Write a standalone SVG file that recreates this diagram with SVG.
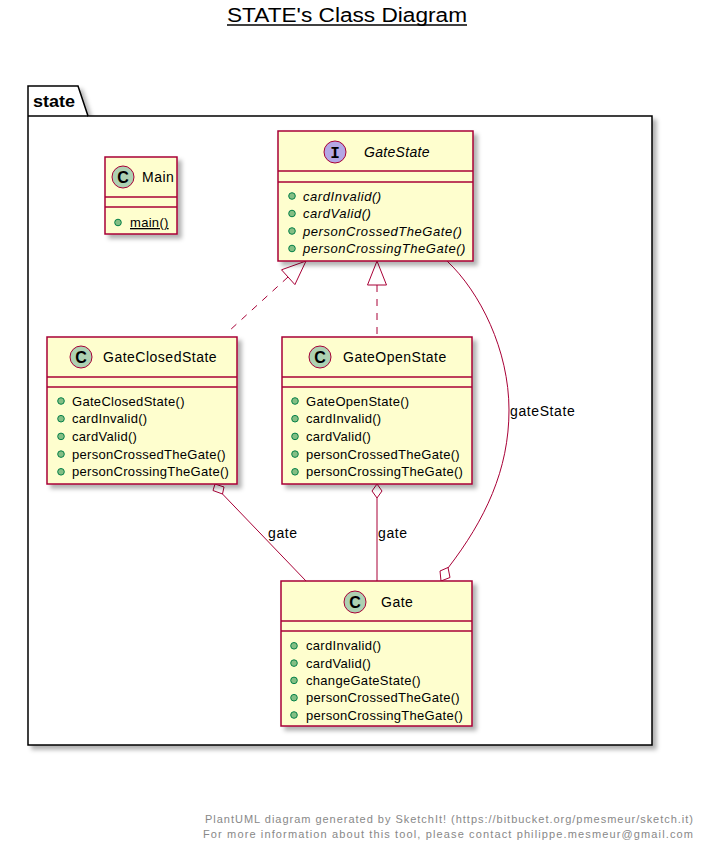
<svg xmlns="http://www.w3.org/2000/svg" width="707" height="854" viewBox="0 0 707 854">
  <defs>
    <filter id="shadow" x="-10%" y="-10%" width="130%" height="130%">
      <feDropShadow dx="4" dy="4" stdDeviation="2" flood-color="#000000" flood-opacity="0.3"/>
    </filter>
    <style>
      text { font-family: "Liberation Sans", Arial, sans-serif; fill: #000000; }
      .box { fill: #FEFECE; stroke: #A80036; stroke-width: 1.5; filter: url(#shadow); }
      .sep { stroke: #A80036; stroke-width: 1.5; }
      .spot-c { fill: #ADD1B2; stroke: #A80036; stroke-width: 1; }
      .spot-i { fill: #B4A7E5; stroke: #A80036; stroke-width: 1; }
      .spot-letter { font-size: 16px; font-weight: bold; text-anchor: middle; }
      .name { font-size: 14px; letter-spacing: 0.5px; }
      .iname { font-size: 14px; font-style: italic; letter-spacing: 0.3px; }
      .member { font-size: 13px; letter-spacing: 0.3px; }
      .imember { font-size: 13px; font-style: italic; letter-spacing: 0.55px; }
      .pub { fill: #84BE84; stroke: #038048; stroke-width: 1; }
      .link { fill: none; stroke: #A80036; stroke-width: 1; }
      .dashed { stroke-dasharray: 7,7; }
      .head-open { fill: #FFFFFF; stroke: #A80036; stroke-width: 1; }
      .label { font-size: 14px; letter-spacing: 0.6px; }
      .footer { font-size: 11px; fill: #888888; text-anchor: end; }
    </style>
  </defs>

  <rect x="0" y="0" width="707" height="854" fill="#FFFFFF"/>

  <!-- title -->
  <g id="title">
    <text x="227" y="22" font-size="20" textLength="240" lengthAdjust="spacingAndGlyphs">STATE's Class Diagram</text>
    <line x1="227" y1="25" x2="467" y2="25" stroke="#000000" stroke-width="1.5"/>
  </g>

  <!-- package state -->
  <g id="package-state">
    <path d="M28,86 L78,86 L88,116 L652,116 L652,745 L28,745 Z" fill="#FFFFFF" stroke="#000000" stroke-width="1.5" filter="url(#shadow)"/>
    <line x1="28" y1="116" x2="88" y2="116" stroke="#000000" stroke-width="1.5"/>
    <text x="33" y="107" font-size="16" font-weight="bold" textLength="42" lengthAdjust="spacingAndGlyphs">state</text>
  </g>

  <!-- connectors -->
  <g id="connectors">
    <!-- GateClosedState realizes GateState -->
    <line class="link dashed" x1="288" y1="277" x2="229" y2="331"/>
    <polygon class="head-open" points="306,261 294.9,284.6 281.5,269.8"/>
    <!-- GateOpenState realizes GateState -->
    <line class="link dashed" x1="377" y1="285" x2="377" y2="337"/>
    <polygon class="head-open" points="377,261 386.5,285 367.5,285"/>
    <!-- GateClosedState aggregates Gate, role gate -->
    <line class="link" x1="222.5" y1="494" x2="306" y2="581"/>
    <polygon class="head-open" points="215,484 213,490.5 222.5,494 224,487"/>
    <text class="label" x="268" y="538">gate</text>
    <!-- GateOpenState aggregates Gate, role gate -->
    <line class="link" x1="377" y1="498" x2="377" y2="581"/>
    <polygon class="head-open" points="377,484 372,491 377,498 382,491"/>
    <text class="label" x="378" y="538">gate</text>
    <!-- Gate aggregates GateState, role gateState -->
    <path class="link" d="M447,261 C480,292 509,350 509,410 C509,470 485,520 448,568"/>
    <polygon class="head-open" points="441,581 440,571 448,567.5 450,577.5"/>
    <text class="label" x="510" y="416">gateState</text>
  </g>

  <!-- Main -->
  <g id="Main">
    <rect class="box" x="105" y="157" width="72" height="77"/>
    <line class="sep" x1="105" y1="197" x2="177" y2="197"/>
    <line class="sep" x1="105" y1="207" x2="177" y2="207"/>
    <circle class="spot-c" cx="123" cy="177" r="11"/>
    <text class="spot-letter" x="123" y="182.5">C</text>
    <text class="name" x="142" y="182">Main</text>
    <circle class="pub" cx="118" cy="222.5" r="3.3"/>
    <text class="member" x="130" y="227" text-decoration="underline">main()</text>
  </g>

  <!-- GateState -->
  <g id="GateState">
    <rect class="box" x="278" y="131" width="195" height="130"/>
    <line class="sep" x1="278" y1="171" x2="473" y2="171"/>
    <line class="sep" x1="278" y1="182" x2="473" y2="182"/>
    <circle class="spot-i" cx="335" cy="152" r="11"/>
    <text x="335" y="157.5" font-size="16" font-weight="bold" text-anchor="middle" style="font-family: 'Liberation Mono', monospace;">I</text>
    <text class="iname" x="364" y="157">GateState</text>
    <circle class="pub" cx="292" cy="196" r="3.3"/>
    <text class="imember" x="303" y="200.5">cardInvalid()</text>
    <circle class="pub" cx="292" cy="213.5" r="3.3"/>
    <text class="imember" x="303" y="218">cardValid()</text>
    <circle class="pub" cx="292" cy="231" r="3.3"/>
    <text class="imember" x="303" y="235.5">personCrossedTheGate()</text>
    <circle class="pub" cx="292" cy="248.5" r="3.3"/>
    <text class="imember" x="303" y="253">personCrossingTheGate()</text>
  </g>

  <!-- GateClosedState -->
  <g id="GateClosedState">
    <rect class="box" x="47" y="337" width="190" height="147"/>
    <line class="sep" x1="47" y1="377" x2="237" y2="377"/>
    <line class="sep" x1="47" y1="387" x2="237" y2="387"/>
    <circle class="spot-c" cx="81" cy="357" r="11"/>
    <text class="spot-letter" x="81" y="362.5">C</text>
    <text class="name" x="103" y="362">GateClosedState</text>
    <circle class="pub" cx="61" cy="401" r="3.3"/>
    <text class="member" x="72" y="405.5">GateClosedState()</text>
    <circle class="pub" cx="61" cy="418.7" r="3.3"/>
    <text class="member" x="72" y="423.2">cardInvalid()</text>
    <circle class="pub" cx="61" cy="436.4" r="3.3"/>
    <text class="member" x="72" y="440.9">cardValid()</text>
    <circle class="pub" cx="61" cy="454.1" r="3.3"/>
    <text class="member" x="72" y="458.6">personCrossedTheGate()</text>
    <circle class="pub" cx="61" cy="471.8" r="3.3"/>
    <text class="member" x="72" y="476.3">personCrossingTheGate()</text>
  </g>

  <!-- GateOpenState -->
  <g id="GateOpenState">
    <rect class="box" x="282" y="337" width="190" height="147"/>
    <line class="sep" x1="282" y1="377" x2="472" y2="377"/>
    <line class="sep" x1="282" y1="387" x2="472" y2="387"/>
    <circle class="spot-c" cx="320" cy="357" r="11"/>
    <text class="spot-letter" x="320" y="362.5">C</text>
    <text class="name" x="343" y="362">GateOpenState</text>
    <circle class="pub" cx="295" cy="401" r="3.3"/>
    <text class="member" x="306" y="405.5">GateOpenState()</text>
    <circle class="pub" cx="295" cy="418.7" r="3.3"/>
    <text class="member" x="306" y="423.2">cardInvalid()</text>
    <circle class="pub" cx="295" cy="436.4" r="3.3"/>
    <text class="member" x="306" y="440.9">cardValid()</text>
    <circle class="pub" cx="295" cy="454.1" r="3.3"/>
    <text class="member" x="306" y="458.6">personCrossedTheGate()</text>
    <circle class="pub" cx="295" cy="471.8" r="3.3"/>
    <text class="member" x="306" y="476.3">personCrossingTheGate()</text>
  </g>

  <!-- Gate -->
  <g id="Gate">
    <rect class="box" x="281" y="581" width="191" height="145"/>
    <line class="sep" x1="281" y1="621" x2="472" y2="621"/>
    <line class="sep" x1="281" y1="631" x2="472" y2="631"/>
    <circle class="spot-c" cx="355" cy="602" r="11"/>
    <text class="spot-letter" x="355" y="607.5">C</text>
    <text class="name" x="381" y="607">Gate</text>
    <circle class="pub" cx="294" cy="645.8" r="3.3"/>
    <text class="member" x="306" y="650.3">cardInvalid()</text>
    <circle class="pub" cx="294" cy="663.1" r="3.3"/>
    <text class="member" x="306" y="667.6">cardValid()</text>
    <circle class="pub" cx="294" cy="680.4" r="3.3"/>
    <text class="member" x="306" y="684.9">changeGateState()</text>
    <circle class="pub" cx="294" cy="697.7" r="3.3"/>
    <text class="member" x="306" y="702.2">personCrossedTheGate()</text>
    <circle class="pub" cx="294" cy="715" r="3.3"/>
    <text class="member" x="306" y="719.5">personCrossingTheGate()</text>
  </g>

  <!-- footer -->
  <g id="footer">
    <text class="footer" x="693" y="823" textLength="488" lengthAdjust="spacing">PlantUML diagram generated by SketchIt! (https://bitbucket.org/pmesmeur/sketch.it)</text>
    <text class="footer" x="693" y="838" textLength="490" lengthAdjust="spacing">For more information about this tool, please contact philippe.mesmeur@gmail.com</text>
  </g>
</svg>
